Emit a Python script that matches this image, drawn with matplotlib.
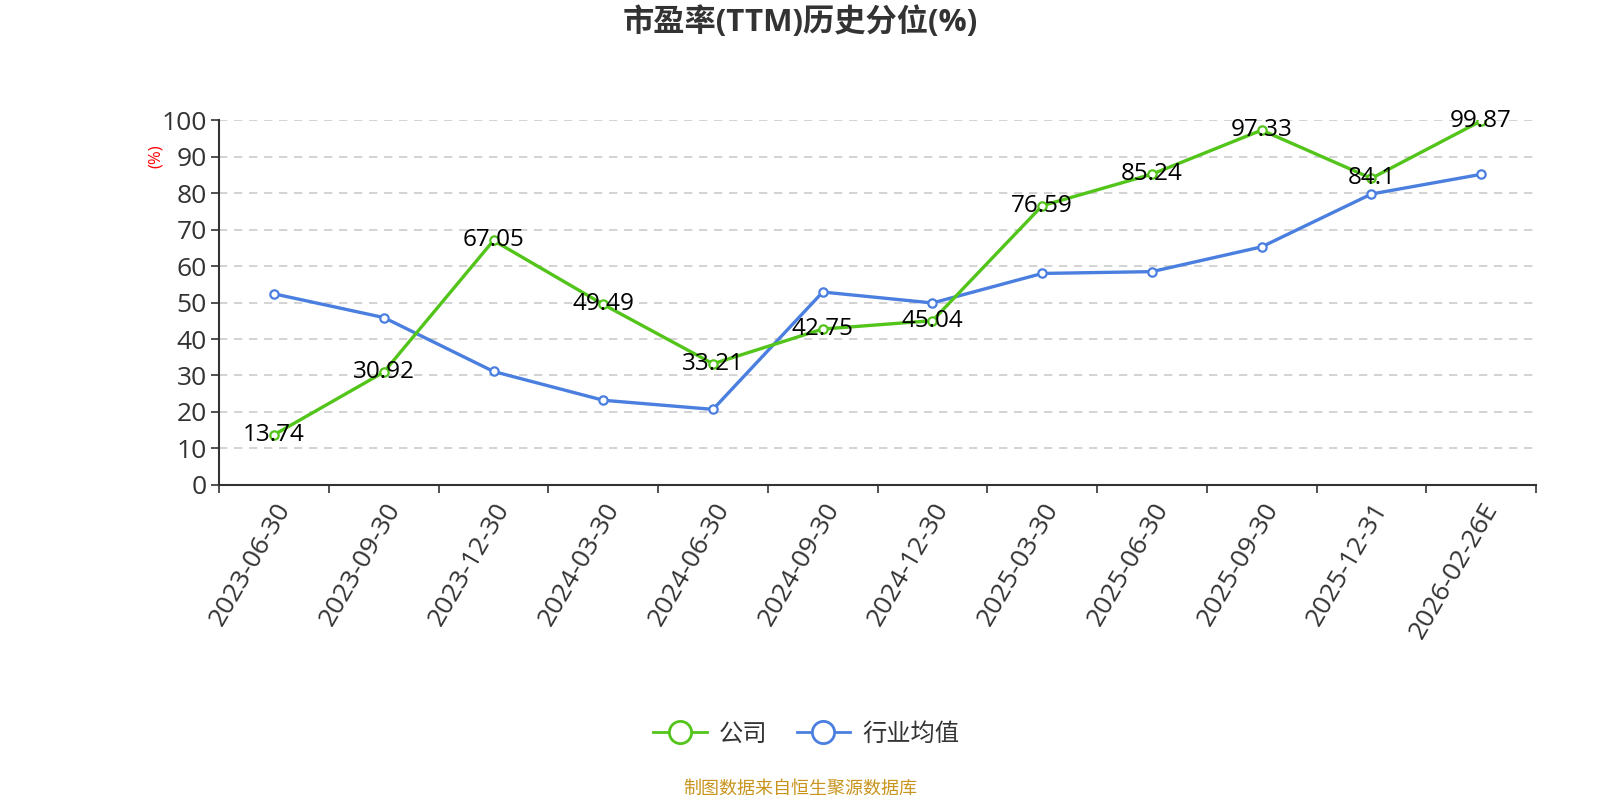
import matplotlib
matplotlib.use("Agg")
import matplotlib.pyplot as plt
from matplotlib.lines import Line2D

plt.rcParams['font.family'] = ['Open Sans', 'Noto Sans CJK SC', 'DejaVu Sans']

dates = ["2023-06-30", "2023-09-30", "2023-12-30", "2024-03-30", "2024-06-30",
         "2024-09-30", "2024-12-30", "2025-03-30", "2025-06-30", "2025-09-30",
         "2025-12-31", "2026-02-26E"]
company = [13.74, 30.92, 67.05, 49.49, 33.21, 42.75, 45.04, 76.59, 85.24, 97.33, 84.1, 99.87]
industry = [52.4, 45.9, 31.1, 23.2, 20.7, 52.9, 49.9, 58.0, 58.5, 65.3, 79.8, 85.2]

green = "#52c41a"
blue = "#4a7fe0"
dark = "#333333"

fig = plt.figure(figsize=(16, 8), dpi=100)
ax = fig.add_axes([0.137, 0.394, 0.823, 0.4555])

x = list(range(len(dates)))
ax.plot(x, company, color=green, lw=2.4, marker='o', ms=6, mfc='white',
        mec=green, mew=1.6, zorder=4)
ax.plot(x, industry, color=blue, lw=2.4, marker='o', ms=6, mfc='white',
        mec=blue, mew=1.6, zorder=3)

# labels sit almost on the point, like the original
for i, v in enumerate(company):
    ax.annotate(f"{v:g}", (i, v), xytext=(0, 0), textcoords='offset points',
                ha='center', va='center', fontsize=17.5, color='black', zorder=5)

ax.set_xlim(-0.5, len(dates) - 0.5)
ax.set_ylim(0, 100)
ax.set_yticks(range(0, 101, 10))
ax.set_xticks(x)
ax.set_xticklabels(dates, rotation=60, ha='right', rotation_mode='anchor')
ax.set_xticks([i - 0.5 for i in range(len(dates) + 1)], minor=True)
ax.tick_params(axis='x', which='major', length=0, pad=10, labelsize=19, labelcolor=dark)
ax.tick_params(axis='x', which='minor', length=6, width=1.2, color=dark)
ax.tick_params(axis='y', length=6, width=1.2, color=dark, labelsize=19, labelcolor=dark, pad=3)

ax.grid(axis='y', linestyle=(0, (5, 4)), color='#cccccc', lw=1.2)
ax.set_axisbelow(True)
for side in ['top', 'right']:
    ax.spines[side].set_visible(False)
for side in ['left', 'bottom']:
    ax.spines[side].set_color(dark)
    ax.spines[side].set_linewidth(1.5)

fig.text(0.0975, 0.805, "(%)", rotation=90, color='red', fontsize=12,
         ha='center', va='center')

fig.suptitle("市盈率(TTM)历史分位(%)", y=0.972, va='center', fontsize=22.5,
             fontweight='bold', color=dark)

handles = [
    Line2D([], [], color=green, lw=2, marker='o', ms=16, mfc='white', mec=green, mew=2),
    Line2D([], [], color=blue, lw=2, marker='o', ms=16, mfc='white', mec=blue, mew=2),
]
fig.legend(handles, ["公司", "行业均值"], loc='center', bbox_to_anchor=(0.504, 0.082),
           ncol=2, frameon=False, fontsize=17.5, handlelength=2.2, columnspacing=1.2,
           handletextpad=0.5, labelcolor=dark)

fig.text(0.5, 0.014, "制图数据来自恒生聚源数据库", ha='center', va='center',
         fontsize=13, color='#c8941e')

fig.savefig("out.png", dpi=100)
